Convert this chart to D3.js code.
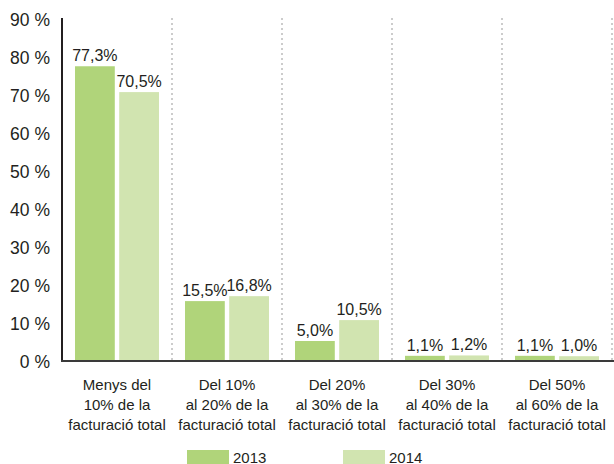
<!DOCTYPE html>
<html><head><meta charset="utf-8">
<script src="https://cdn.jsdelivr.net/npm/d3@7"></script>
<style>
html,body{margin:0;padding:0;background:#fff;}
text{font-family:"Liberation Sans",Arial,sans-serif;fill:#231f20;}
</style></head>
<body><svg id="c" width="614" height="464"></svg>
<script>
const categories = [
  ["Menys del","10% de la","facturació total"],
  ["Del 10%","al 20% de la","facturació total"],
  ["Del 20%","al 30% de la","facturació total"],
  ["Del 30%","al 40% de la","facturació total"],
  ["Del 50%","al 60% de la","facturació total"]
];
const series = ["2013","2014"];
const values2013 = [77.3, 15.5, 5.0, 1.1, 1.1];
const values2014 = [70.5, 16.8, 10.5, 1.2, 1.0];
const yTicks = [0,10,20,30,40,50,60,70,80,90];
const colors = ["#b0d47a","#d1e4b0"];

(function () {
const svg = d3.select("#c");
const mLeft = 62, mRight = 612, mTop = 18, mBottom = 360;
const fmt = v => v.toFixed(1).replace(".", ",") + "%";

const x0 = d3.scaleBand().domain(d3.range(categories.length)).range([mLeft, mRight]).padding(0);
const x1 = d3.scaleBand().domain(series).range([13, 97]).paddingInner(0.1);
const y = d3.scaleLinear().domain([0, 90]).range([mBottom, mTop]);

// dividers
svg.append("g").selectAll("line").data(d3.range(1, categories.length + 1)).join("line")
  .attr("x1", d => x0(d - 1) + x0.bandwidth()).attr("x2", d => x0(d - 1) + x0.bandwidth())
  .attr("y1", mTop).attr("y2", mBottom)
  .attr("stroke", "#999").attr("stroke-width", 1).attr("stroke-dasharray", "2,3");

// y axis
const ya = svg.append("g").attr("transform", `translate(${mLeft},0)`)
  .call(d3.axisLeft(y).tickValues(yTicks).tickSize(0).tickPadding(12).tickFormat(d => d + " %"));
ya.select(".domain").remove();
ya.selectAll("text").attr("font-size", 17.5).attr("dy", "0.45em")
  .style("font-family", '"Liberation Sans",Arial,sans-serif').attr("fill", "#231f20");

const rows = categories.map((c, i) => [values2013[i], values2014[i]]);
const g = svg.append("g").selectAll("g").data(rows).join("g")
  .attr("transform", (d, i) => `translate(${x0(i)},0)`);
g.selectAll("rect").data(d => d.map((v, j) => ({v, s: series[j], j}))).join("rect")
  .attr("x", d => x1(d.s)).attr("width", x1.bandwidth())
  .attr("y", d => y(d.v)).attr("height", d => mBottom - y(d.v))
  .attr("fill", d => colors[d.j]);
g.selectAll("text.v").data(d => d.map((v, j) => ({v, s: series[j]}))).join("text")
  .attr("class", "v")
  .attr("x", d => x1(d.s) + x1.bandwidth() / 2).attr("y", d => y(d.v) - 5)
  .attr("text-anchor", "middle").attr("font-size", 16).text(d => fmt(d.v));

// axis lines
svg.append("line").attr("x1", mLeft).attr("x2", mLeft).attr("y1", mTop).attr("y2", mBottom + 1)
  .attr("stroke", "#231f20").attr("stroke-width", 2);
svg.append("line").attr("x1", mLeft - 1).attr("x2", 614).attr("y1", mBottom + 1).attr("y2", mBottom + 1)
  .attr("stroke", "#3a3a3a").attr("stroke-width", 2);

// category labels
const cl = svg.append("g").selectAll("text").data(categories).join("text")
  .attr("text-anchor", "middle").attr("font-size", 15)
  .attr("x", (d, i) => x0(i) + x0.bandwidth() / 2).attr("y", 390);
cl.selectAll("tspan").data(d => d).join("tspan")
  .attr("x", function () { return d3.select(this.parentNode).attr("x"); })
  .attr("dy", (d, i) => i === 0 ? 0 : 20).text(d => d);

// legend
const legX = [187, 343];
const lg = svg.append("g").selectAll("g").data(series).join("g")
  .attr("transform", (d, i) => `translate(${legX[i]},450)`);
lg.append("rect").attr("width", 42).attr("height", 14).attr("fill", (d, i) => colors[i]);
lg.append("text").attr("x", 46).attr("y", 12.5).attr("font-size", 15).text(d => d);
})();
</script></body></html>
